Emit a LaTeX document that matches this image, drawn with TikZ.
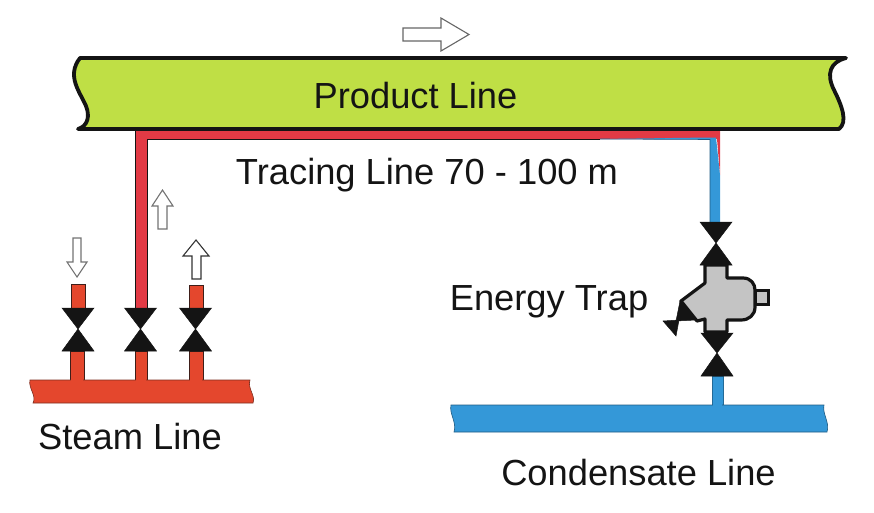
\documentclass[tikz,border=0pt]{standalone}
\usepackage{fontspec}
\setmainfont{Liberation Sans}
\definecolor{prodgreen}{HTML}{BFDF45}
\definecolor{tracered}{HTML}{E23A45}
\definecolor{steamred}{HTML}{E4472D}
\definecolor{condblue}{HTML}{3498D8}
\definecolor{trapgray}{HTML}{C4C4C4}
\definecolor{ink}{HTML}{141414}
\tikzset{
  lbl/.style={font=\fontsize{36.3}{40}\selectfont, text=ink, inner sep=0pt},
  steampipe/.style={fill=steamred, draw=ink!80!steamred, line width=0.8pt},
  condpipe/.style={fill=condblue, draw=condblue!70!black, line width=0.6pt},
  valvetri/.style={fill=ink, draw=ink, line width=0.5pt, line join=miter},
  flowarrow/.style={fill=white, draw=#1, line width=1.1pt, line join=miter},
  flowarrow/.default={black!55},
}
\begin{document}
\begin{tikzpicture}[x=1pt,y=-1pt]
\useasboundingbox (0,0) rectangle (874,512);
% tracing line
\path[fill=tracered] (135,129) -- (720,129) -- (720,175) -- (717,139) -- (147,139) -- (147,308) -- (135,308) -- cycle;
\draw[ink, line width=0.8pt] (135,129) -- (135,308) (147,308) -- (147,139) -- (600,139);
\path[fill=condblue] (710,222) -- (710,139.5) -- (600,139) -- (708,137.5) -- (716,137.5) -- (720,175) -- (720,222) -- cycle;
\draw[condblue!60!black, line width=0.6pt] (600,139) -- (710,139.5) -- (710,222);
% product line
\draw[fill=prodgreen, draw=ink, line width=3.8pt, line join=round]
  (80,58) -- (846,58)
  .. controls (830,62) and (826,74) .. (834,90)
  .. controls (842,106) and (848,122) .. (839,129)
  -- (78,129)
  .. controls (88,126) and (90,116) .. (86,106)
  .. controls (80,92) and (66,76) .. (80,58) -- cycle;
\node[lbl] (product) at (415.5,96) {Product Line};
\node[lbl] (tracing) at (427,175.5) {Tracing Line 70 - 100 m};
% steam stubs and header
\path[steampipe] (71,284) -- (85,284) -- (85,308) -- (71,308) -- cycle;
\path[steampipe] (189,285) -- (203,285) -- (203,308) -- (189,308) -- cycle;
\path[steampipe] (70,351) rectangle (84,382);
\path[steampipe] (135,351) rectangle (147,382);
\path[steampipe] (189,351) rectangle (203,382);
\path[fill=steamred, draw=ink!50!steamred, line width=0.6pt] (30,380) -- (250,380)
  .. controls (247,388) and (256,396) .. (253,403)
  -- (33,403) .. controls (37,396) and (28,388) .. (30,380) -- cycle;
\path[fill=steamred] (71,378) rectangle (83,382) (136,378) rectangle (146,382) (190,378) rectangle (202,382);
% condensate
\path[condpipe] (712,376) rectangle (723,407);
\path[fill=condblue, draw=condblue!60!black, line width=0.6pt] (451,405) -- (824,405)
  .. controls (822,414) and (830,422) .. (827,432)
  -- (454,432) .. controls (457,422) and (449,414) .. (451,405) -- cycle;
\path[fill=condblue] (713,403) rectangle (722,407);
% valves
\foreach \cx/\ya/\yb/\yc/\hw in {78/308/329/351/16, 140.5/308/329/351/16, 195.5/308/329/351/16, 716/222/243/265/16, 717/333/353/376/16}{
  \path[valvetri] (\cx-\hw,\ya) -- (\cx+\hw,\ya) -- (\cx,\yb) -- cycle;
  \path[valvetri] (\cx-\hw,\yc) -- (\cx+\hw,\yc) -- (\cx,\yb) -- cycle;
}
% trap
\draw[fill=trapgray, draw=ink, line width=3pt] (755,290) rectangle (768,304);
\draw[fill=trapgray, draw=ink, line width=3.2pt, line join=round]
  (705,265) -- (727,265) -- (727,278) -- (743,278)
  .. controls (751,278) and (755,284) .. (755,290)
  -- (755,307) .. controls (755,315) and (749,320) .. (741,320)
  -- (727,320) -- (727,332) -- (705,332) -- (705,319) -- (697,321) -- (681,301) -- (705,283) -- cycle;
\path[fill=ink, draw=ink, line width=0.5pt] (680,301) -- (696,320) -- (676,321) -- cycle;
\path[fill=ink, draw=ink, line width=0.5pt] (663,321) -- (679,320) -- (676,336) -- cycle;
% flow arrows
\draw[flowarrow=black!60] (403,28) -- (441,28) -- (441,18) -- (469,34.5) -- (441,51) -- (441,41) -- (403,41) -- cycle;
\draw[flowarrow=black!55] (73,238) -- (81,238) -- (81,262) -- (87,262) -- (77,277) -- (67,262) -- (73,262) -- cycle;
\draw[flowarrow=black!55] (158,229) -- (167,229) -- (167,206) -- (173,206) -- (162.5,190) -- (152,206) -- (158,206) -- cycle;
\draw[flowarrow=black!80] (192,279) -- (201,279) -- (201,256) -- (209,256) -- (196,240) -- (183,256) -- (192,256) -- cycle;
% labels
\node[lbl] (trap) at (549,301.5) {Energy Trap};
\node[lbl] (steam) at (130,437) {Steam Line};
\node[lbl] (cond) at (638.5,473) {Condensate Line};
\end{tikzpicture}
\end{document}
